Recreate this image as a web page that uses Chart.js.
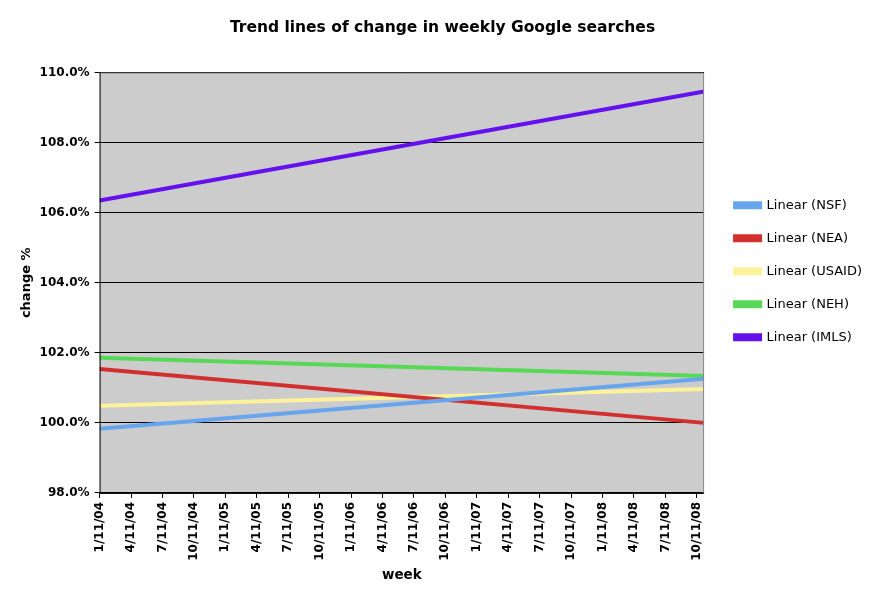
<!DOCTYPE html>
<html>
<head>
<meta charset="utf-8">
<script src="https://cdn.jsdelivr.net/npm/chart.js@4"></script>
<style>
  html, body { margin: 0; padding: 0; background: #ffffff; }
  #wrap { width: 885px; height: 601px; }
</style>
</head>
<body>
<div id="wrap"><canvas id="c" width="885" height="601"></canvas></div>
<script>
// ---- data ----
const tickLabels = ["1/11/04","4/11/04","7/11/04","10/11/04","1/11/05","4/11/05","7/11/05","10/11/05",
  "1/11/06","4/11/06","7/11/06","10/11/06","1/11/07","4/11/07","7/11/07","10/11/07",
  "1/11/08","4/11/08","7/11/08","10/11/08"];
const weeksPerTick = 13;
const weekIndex = [0, 250];          // first and last week of the trend lines
const seriesNames = ["Linear (NSF)","Linear (NEA)","Linear (USAID)","Linear (NEH)","Linear (IMLS)"];
const nsf   = [99.83, 101.26];
const nea   = [101.54, 100.00];
const usaid = [100.49, 100.97];
const neh   = [101.86, 101.34];
const imls  = [106.35, 109.46];
const yTicks = [98, 100, 102, 104, 106, 108, 110];

const colors = ["#67a6ee", "#d2302f", "#fdf29a", "#57d957", "#6511ee"];
const values = [nsf, nea, usaid, neh, imls];

const datasets = values.map((v, i) => ({
  label: seriesNames[i],
  data: v.map((y, k) => ({ x: weekIndex[k], y: y })),
  borderColor: colors[i],
  backgroundColor: colors[i],
  borderWidth: 4,
  pointRadius: 0,
  tension: 0,
  fill: false
}));

const plotBg = {
  id: 'plotBg',
  beforeDraw(chart) {
    const { ctx, chartArea: a } = chart;
    ctx.save();
    ctx.fillStyle = '#cccccc';
    ctx.fillRect(a.left, a.top, a.right - a.left, a.bottom - a.top);
    ctx.restore();
  },
  afterDatasetsDraw(chart) {
    const { ctx, chartArea: a } = chart;
    ctx.save();
    ctx.strokeStyle = '#8a8a8a';
    ctx.lineWidth = 1;
    ctx.beginPath();
    ctx.moveTo(a.left, a.top + 0.5);
    ctx.lineTo(a.right - 0.5, a.top + 0.5);
    ctx.lineTo(a.right - 0.5, a.bottom);
    ctx.stroke();
    ctx.strokeStyle = '#000000';
    ctx.beginPath();
    ctx.moveTo(a.left + 0.5, a.top);
    ctx.lineTo(a.left + 0.5, a.bottom + 0.5);
    ctx.lineTo(a.right, a.bottom + 0.5);
    ctx.stroke();
    ctx.restore();
  }
};

new Chart(document.getElementById('c'), {
  type: 'line',
  data: { datasets },
  plugins: [plotBg],
  options: {
    responsive: false,
    animation: false,
    layout: { padding: { left: 13, right: 13, top: 0, bottom: 17 } },
    plugins: {
      title: {
        display: true,
        text: 'Trend lines of change in weekly Google searches',
        color: '#000',
        font: { family: 'DejaVu Sans', size: 15.5, weight: 'bold' },
        padding: { top: 19, bottom: 35 }
      },
      legend: {
        position: 'right',
        align: 'start',
        fullSize: false,
        maxWidth: 220,
        title: {
          display: true,
          text: ' ',
          font: { size: 1 },
          padding: { top: 105, bottom: 0 }
        },
        labels: {
          color: '#000',
          font: { family: 'DejaVu Sans', size: 13 },
          boxWidth: 25,
          boxHeight: 4,
          padding: 20
        }
      },
      tooltip: { enabled: false }
    },
    scales: {
      x: {
        type: 'linear',
        min: weekIndex[0],
        max: weekIndex[1],
        afterBuildTicks(scale) {
          scale.ticks = tickLabels.map((l, i) => ({ value: i * weeksPerTick }));
        },
        ticks: {
          callback: (v) => tickLabels[Math.round(v / weeksPerTick)],
          minRotation: 90,
          maxRotation: 90,
          color: '#000',
          font: { family: 'DejaVu Sans', size: 12, weight: 'bold' },
          padding: 4,
          autoSkip: false
        },
        grid: { display: true, drawOnChartArea: false, color: '#000', tickLength: 5 },
        border: { display: false },
        title: {
          display: true,
          text: 'week',
          color: '#000',
          font: { family: 'DejaVu Sans', size: 13.5, weight: 'bold' },
          padding: { top: 3, bottom: 0 }
        }
      },
      y: {
        min: 98,
        max: 110,
        afterBuildTicks(scale) {
          scale.ticks = yTicks.map(v => ({ value: v }));
        },
        ticks: {
          callback: (v) => v.toFixed(1) + '%',
          color: '#000',
          font: { family: 'DejaVu Sans', size: 12, weight: 'bold' },
          padding: 5
        },
        grid: { color: '#000', lineWidth: 1, tickLength: 5 },
        border: { display: false },
        title: {
          display: true,
          text: 'change %',
          color: '#000',
          font: { family: 'DejaVu Sans', size: 13, weight: 'bold' },
          padding: { top: 6, bottom: 0 }
        }
      },
      spacer: {
        type: 'linear',
        position: 'right',
        display: true,
        grid: { display: false },
        border: { display: false },
        ticks: { display: false },
        afterFit(scale) { scale.width = 11; }
      }
    }
  }
});
</script>
</body>
</html>
